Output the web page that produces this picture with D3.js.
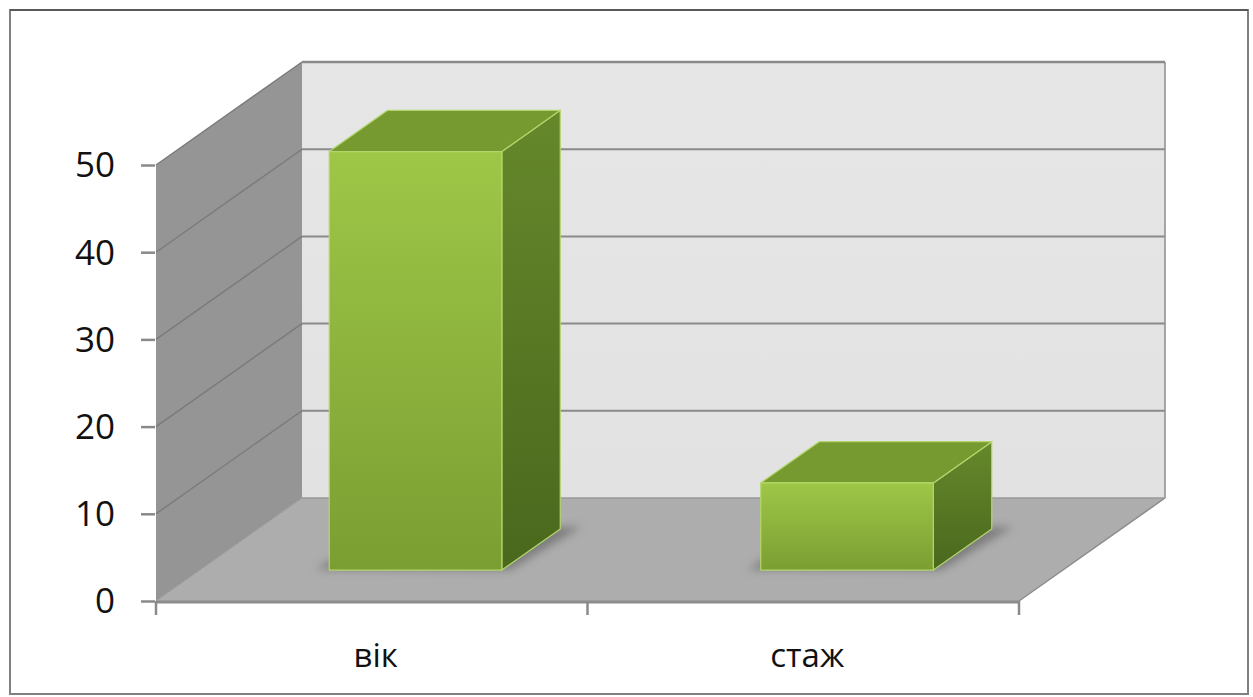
<!DOCTYPE html>
<html>
<head>
<meta charset="utf-8">
<script src="https://cdn.jsdelivr.net/npm/d3@7"></script>
<style>
  html, body { margin: 0; padding: 0; background: #fff; }
  svg { display: block; }
</style>
</head>
<body>
<svg id="chart" width="1253" height="697"></svg>
<script>
// Data
const categories = ["вік", "стаж"];
const values = [48, 10];
const yTicks = [0, 10, 20, 30, 40, 50];

const svg = d3.select("#chart");

// Oblique 3D projection: depth t in [0,1] shifts points right and up
const DX = 146, DY = 103;
const P = (x, y, t) => [x + t * DX, y - t * DY];

const x = d3.scaleBand()
  .domain(categories)
  .range([156, 1019])
  .paddingInner(0.6)
  .paddingOuter(0.3);
const xCat = d3.scaleBand().domain(categories).range([156, 1019]);
const y = d3.scaleLinear().domain([0, 50]).range([601, 165]);

const defs = svg.append("defs");
const g1 = defs.append("linearGradient").attr("id", "frontGrad")
  .attr("x1", 0).attr("y1", 0).attr("x2", 0).attr("y2", 1);
g1.append("stop").attr("offset", "0%").attr("stop-color", "#9ec747");
g1.append("stop").attr("offset", "100%").attr("stop-color", "#7b9e32");
const g2 = defs.append("linearGradient").attr("id", "sideGrad")
  .attr("x1", 0).attr("y1", 0).attr("x2", 0).attr("y2", 1);
g2.append("stop").attr("offset", "0%").attr("stop-color", "#66882b");
g2.append("stop").attr("offset", "100%").attr("stop-color", "#4a681d");
const g3 = defs.append("linearGradient").attr("id", "wallGrad")
  .attr("x1", 0).attr("y1", 0).attr("x2", 0).attr("y2", 1);
g3.append("stop").attr("offset", "0%").attr("stop-color", "#e6e6e6");
g3.append("stop").attr("offset", "100%").attr("stop-color", "#e2e2e2");
defs.append("filter").attr("id", "blur")
  .attr("x", "-20%").attr("y", "-20%").attr("width", "140%").attr("height", "140%")
  .append("feGaussianBlur").attr("stdDeviation", 4);

const line = d3.line();
const poly = pts => line(pts) + "Z";

const [r0, r1] = x.range();
const y0 = y(0), yTop = y(50);

// Back wall
svg.append("path")
  .attr("d", poly([P(r0, yTop, 1), P(r1, yTop, 1), P(r1, y0, 1), P(r0, y0, 1)]))
  .attr("fill", "url(#wallGrad)");

// Left side wall
svg.append("path")
  .attr("d", poly([P(r0, yTop, 0), P(r0, yTop, 1), P(r0, y0, 1), P(r0, y0, 0)]))
  .attr("fill", "#959595");

// Floor
svg.append("path")
  .attr("d", poly([P(r0, y0, 0), P(r1, y0, 0), P(r1, y0, 1), P(r0, y0, 1)]))
  .attr("fill", "#adadad");

// Gridlines on side wall and back wall
const grid = svg.append("g").attr("fill", "none");
yTicks.filter(v => v > 0).forEach(v => {
  grid.append("path")
    .attr("d", line([P(r0, y(v), 0), P(r0, y(v), 1)]))
    .attr("stroke", "#7a7a7a").attr("stroke-width", 1.4);
  grid.append("path")
    .attr("d", line([P(r0, y(v), 1), P(r1, y(v), 1)]))
    .attr("stroke", "#8a8a8a").attr("stroke-width", v === 50 ? 2.5 : 2);
});
// Back wall right edge and floor edges
grid.append("path").attr("d", line([P(r1, yTop, 1), P(r1, y0, 1)]))
  .attr("stroke", "#8c8c8c").attr("stroke-width", 1.5);
grid.append("path").attr("d", line([P(r1, y0, 0), P(r1, y0, 1)]))
  .attr("stroke", "#8c8c8c").attr("stroke-width", 1.5);
grid.append("path").attr("d", line([P(r0, y0, 1), P(r1, y0, 1)]))
  .attr("stroke", "#9a9a9a").attr("stroke-width", 1.5);
grid.append("path").attr("d", line([P(r0, y0, 0), P(r0, y0, 1)]))
  .attr("stroke", "#9a9a9a").attr("stroke-width", 1);

// Bars
const t0 = 0.3, t1 = 0.7;
const data = categories.map((c, i) => ({ cat: c, value: values[i] }));
const bars = svg.append("g");

bars.selectAll("path.shadow").data(data).join("path")
  .attr("class", "shadow")
  .attr("d", d => {
    const a = x(d.cat) - 12, b = x(d.cat) + x.bandwidth() + 8;
    return poly([P(a, y0 - 2, t0 - 0.01), P(b, y0, t0), P(b + 10, y0, t1 + 0.02), P(a + 10, y0, t1)]);
  })
  .attr("fill", "#555").attr("opacity", 0.55).attr("filter", "url(#blur)");

const edge = "#b3d66c";
bars.selectAll("path.side").data(data).join("path")
  .attr("class", "side")
  .attr("d", d => {
    const xr = x(d.cat) + x.bandwidth(), yt = y(d.value);
    return poly([P(xr, yt, t0), P(xr, yt, t1), P(xr, y0, t1), P(xr, y0, t0)]);
  })
  .attr("fill", "url(#sideGrad)").attr("stroke", edge).attr("stroke-width", 1.2)
  .attr("stroke-linejoin", "round");

bars.selectAll("path.top").data(data).join("path")
  .attr("class", "top")
  .attr("d", d => {
    const xl = x(d.cat), xr = xl + x.bandwidth(), yt = y(d.value);
    return poly([P(xl, yt, t0), P(xr, yt, t0), P(xr, yt, t1), P(xl, yt, t1)]);
  })
  .attr("fill", "#779a30").attr("stroke", edge).attr("stroke-width", 1.2)
  .attr("stroke-linejoin", "round");

bars.selectAll("path.front").data(data).join("path")
  .attr("class", "front")
  .attr("d", d => {
    const xl = x(d.cat), xr = xl + x.bandwidth(), yt = y(d.value);
    return poly([P(xl, yt, t0), P(xr, yt, t0), P(xr, y0, t0), P(xl, y0, t0)]);
  })
  .attr("fill", "url(#frontGrad)").attr("stroke", edge).attr("stroke-width", 1.2)
  .attr("stroke-linejoin", "round");

// Value axis on the front edge of the side wall
const yAxis = svg.append("g")
  .attr("transform", `translate(${r0 - 1},0)`)
  .call(d3.axisLeft(y).tickValues(yTicks).tickSizeInner(14).tickSizeOuter(0).tickPadding(26));
yAxis.select(".domain").remove();
yAxis.selectAll(".tick line").attr("stroke", "#8a8a8a").attr("stroke-width", 2.5);
yAxis.selectAll(".tick text")
  .attr("font-family", "'Open Sans', sans-serif").attr("font-size", 35)
  .attr("fill", "#111").attr("dy", "0.34em");

// Category axis along the front edge of the floor
svg.append("path").attr("d", line([[r0, y0 + 1], [r1, y0 + 1]]))
  .attr("stroke", "#8c8c8c").attr("stroke-width", 3).attr("fill", "none");
const bounds = [...categories.map(c => xCat(c)), r1];
svg.append("g").selectAll("line").data(bounds).join("line")
  .attr("x1", d => d).attr("x2", d => d)
  .attr("y1", y0).attr("y2", y0 + 14)
  .attr("stroke", "#8a8a8a").attr("stroke-width", 2.5);

const xAxis = svg.append("g")
  .attr("transform", `translate(${4},${y0})`)
  .call(d3.axisBottom(xCat).tickSize(0).tickPadding(43));
xAxis.select(".domain").remove();
xAxis.selectAll(".tick text")
  .attr("font-family", "'Open Sans', sans-serif").attr("font-size", 33)
  .attr("fill", "#111").attr("dy", "0.71em");

// Chart frame
svg.append("rect")
  .attr("x", 10).attr("y", 10).attr("width", 1238).attr("height", 684)
  .attr("fill", "none").attr("stroke", "#808080").attr("stroke-width", 2);
svg.append("line").attr("x1", 10).attr("x2", 1248).attr("y1", 10).attr("y2", 10)
  .attr("stroke", "#333").attr("stroke-width", 1.2);
</script>
</body>
</html>
